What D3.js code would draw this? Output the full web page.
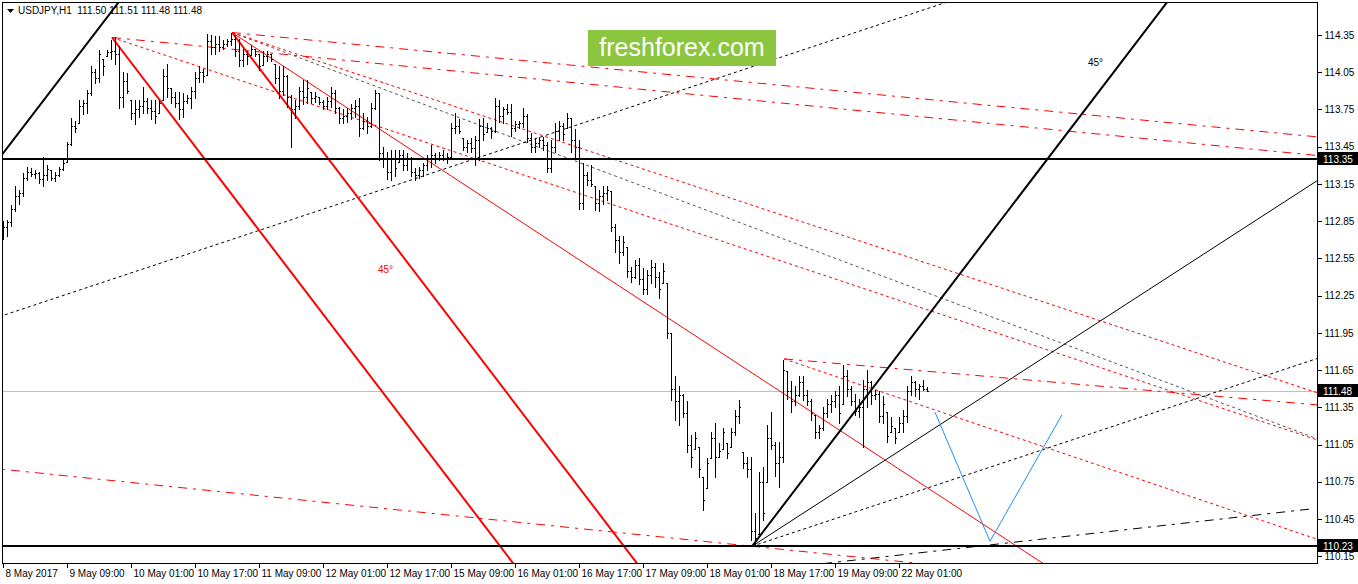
<!DOCTYPE html>
<html><head><meta charset="utf-8">
<script src="https://cdn.jsdelivr.net/npm/d3@7"></script>
<style>
body{margin:0;background:#fff;overflow:hidden}
svg{display:block}
text{font-family:"Liberation Sans",Arial,sans-serif}
</style>
</head><body>
<svg id="chart" width="1358" height="584"></svg>
<script>
// ---------- DATA ----------
const symbolTitle = "USDJPY,H1  111.50 111.51 111.48 111.48";
const highs = [
112.85,112.86,112.98,113.13,113.10,113.24,113.29,113.28,113.26,113.25,
113.37,113.30,113.26,113.25,113.29,113.34,113.49,113.68,113.66,113.83,
113.83,113.91,114.10,114.08,114.23,114.16,114.23,114.31,114.33,114.26,
114.05,114.04,113.83,113.83,113.83,113.93,113.84,113.83,113.83,113.83,
114.08,114.12,113.92,113.89,113.89,113.88,113.87,113.93,114.05,114.10,
114.08,114.36,114.35,114.34,114.34,114.31,114.32,114.37,114.35,114.32,
114.24,114.22,114.27,114.24,114.20,114.22,114.22,114.20,114.12,114.10,
114.10,114.03,113.87,113.83,113.93,113.99,113.99,113.89,113.89,113.85,
113.83,113.85,113.93,113.91,113.77,113.75,113.76,113.79,113.83,113.84,
113.72,113.69,113.80,113.91,113.88,113.45,113.41,113.42,113.42,113.42,
113.42,113.40,113.37,113.28,113.29,113.32,113.38,113.46,113.40,113.41,
113.42,113.40,113.64,113.72,113.67,113.52,113.50,113.52,113.54,113.67,
113.68,113.64,113.61,113.84,113.83,113.77,113.79,113.79,113.66,113.66,
113.76,113.71,113.56,113.52,113.53,113.53,113.49,113.50,113.64,113.66,
113.64,113.72,113.68,113.59,113.50,113.32,113.25,113.30,113.13,113.10,
113.13,113.13,113.09,112.83,112.73,112.73,112.64,112.48,112.54,112.55,
112.47,112.46,112.54,112.51,112.44,112.51,112.35,111.95,111.60,111.52,
111.46,111.40,111.13,111.15,111.03,110.79,110.94,111.15,111.22,111.06,
111.18,111.06,111.18,111.33,111.41,110.99,110.95,110.95,110.50,110.83,
110.87,111.21,111.31,111.07,111.07,111.73,111.64,111.56,111.52,111.60,
111.60,111.49,111.42,111.29,111.21,111.35,111.42,111.45,111.48,111.52,
111.69,111.65,111.52,111.46,111.42,111.57,111.65,111.56,111.49,111.48,
111.44,111.31,111.27,111.18,111.27,111.33,111.52,111.60,111.56,111.54,
111.57,111.51];
const lows = [
112.71,112.73,112.81,112.93,112.99,113.05,113.18,113.21,113.20,113.16,
113.13,113.18,113.18,113.17,113.21,113.26,113.33,113.46,113.57,113.64,
113.71,113.72,113.87,113.96,113.97,114.03,114.18,114.16,114.12,113.76,
113.77,113.88,113.67,113.63,113.69,113.72,113.72,113.67,113.64,113.72,
113.83,113.85,113.80,113.77,113.67,113.69,113.80,113.76,113.84,113.97,
113.97,114.03,114.20,114.20,114.22,114.24,114.26,114.27,114.18,114.10,
114.10,114.12,114.19,114.18,114.07,114.11,114.14,114.14,113.96,113.84,
113.87,113.77,113.45,113.68,113.75,113.79,113.80,113.80,113.81,113.79,
113.75,113.75,113.77,113.72,113.64,113.64,113.65,113.67,113.69,113.54,
113.59,113.56,113.61,113.75,113.34,113.29,113.19,113.18,113.21,113.33,
113.26,113.26,113.21,113.18,113.20,113.21,113.26,113.29,113.32,113.34,
113.34,113.32,113.36,113.56,113.56,113.42,113.41,113.41,113.30,113.34,
113.50,113.57,113.52,113.57,113.65,113.64,113.71,113.54,113.58,113.60,
113.61,113.49,113.41,113.41,113.45,113.42,113.25,113.25,113.41,113.50,
113.50,113.60,113.41,113.37,112.95,112.95,113.14,113.13,112.94,112.93,
112.99,113.02,112.77,112.60,112.51,112.58,112.40,112.36,112.39,112.34,
112.26,112.26,112.35,112.32,112.23,112.35,111.91,111.41,111.25,111.21,
111.27,110.99,110.87,111.01,110.79,110.52,110.70,110.94,110.79,110.95,
111.01,110.94,111.03,111.13,111.22,110.86,110.79,110.28,110.23,110.33,
110.44,110.75,111.01,110.80,110.71,110.91,111.42,111.31,111.37,111.44,
111.41,111.37,111.25,111.10,111.10,111.17,111.27,111.31,111.35,111.22,
111.38,111.44,111.37,111.29,111.27,111.03,111.35,111.38,111.42,111.23,
111.22,111.07,111.15,111.06,111.15,111.15,111.23,111.45,111.44,111.42,
111.49,111.48];
const opens = [
112.78,112.80,112.84,112.95,113.05,113.08,113.20,113.25,113.23,113.24,
113.19,113.22,113.26,113.20,113.22,113.27,113.33,113.47,113.62,113.64,
113.78,113.80,113.88,114.05,114.00,114.16,114.18,114.21,114.22,114.20,
113.85,113.98,113.83,113.72,113.75,113.78,113.82,113.76,113.74,113.72,
113.83,114.02,113.92,113.85,113.80,113.75,113.82,113.84,113.90,114.00,
114.05,114.03,114.30,114.25,114.28,114.25,114.28,114.30,114.32,114.22,
114.15,114.20,114.19,114.24,114.20,114.11,114.18,114.20,114.12,114.00,
113.90,114.02,113.85,113.75,113.78,113.90,113.85,113.89,113.84,113.85,
113.81,113.78,113.82,113.88,113.76,113.68,113.70,113.72,113.76,113.78,
113.60,113.66,113.62,113.76,113.88,113.40,113.35,113.25,113.36,113.33,
113.38,113.30,113.36,113.25,113.22,113.26,113.30,113.35,113.38,113.35,
113.38,113.36,113.37,113.60,113.62,113.52,113.45,113.48,113.44,113.50,
113.62,113.57,113.60,113.58,113.78,113.70,113.75,113.73,113.60,113.63,
113.64,113.70,113.52,113.45,113.48,113.50,113.46,113.28,113.45,113.58,
113.62,113.60,113.68,113.50,113.45,113.00,113.22,113.18,113.13,113.00,
113.05,113.08,113.09,112.80,112.70,112.60,112.64,112.45,112.40,112.50,
112.38,112.30,112.42,112.48,112.40,112.35,112.35,111.95,111.50,111.40,
111.45,111.30,111.05,111.01,111.03,110.79,110.70,110.94,111.10,110.95,
111.01,111.06,111.03,111.15,111.28,110.99,110.90,110.85,110.35,110.33,
110.75,110.75,111.10,111.05,110.90,110.95,111.64,111.48,111.40,111.45,
111.55,111.45,111.40,111.29,111.15,111.18,111.30,111.38,111.40,111.45,
111.38,111.60,111.50,111.40,111.32,111.35,111.50,111.55,111.45,111.46,
111.28,111.31,111.15,111.18,111.15,111.22,111.28,111.48,111.55,111.50,
111.52,111.50];
const closes = [
112.80,112.84,112.95,113.05,113.08,113.20,113.25,113.23,113.24,113.19,
113.22,113.27,113.20,113.22,113.27,113.32,113.47,113.62,113.60,113.78,
113.80,113.88,114.05,114.00,114.20,114.10,114.21,114.22,114.20,113.85,
113.98,113.90,113.72,113.75,113.78,113.82,113.76,113.74,113.70,113.80,
114.02,113.92,113.85,113.80,113.75,113.82,113.84,113.90,114.00,114.05,
114.02,114.30,114.25,114.28,114.25,114.28,114.30,114.32,114.22,114.15,
114.20,114.18,114.24,114.20,114.10,114.18,114.20,114.16,114.00,113.90,
114.02,113.85,113.75,113.78,113.90,113.85,113.92,113.84,113.86,113.81,
113.78,113.82,113.88,113.76,113.68,113.70,113.72,113.76,113.78,113.60,
113.66,113.62,113.76,113.88,113.40,113.35,113.25,113.36,113.28,113.38,
113.30,113.36,113.25,113.22,113.26,113.30,113.35,113.38,113.35,113.38,
113.36,113.37,113.60,113.62,113.58,113.45,113.48,113.44,113.50,113.62,
113.55,113.60,113.58,113.78,113.70,113.75,113.73,113.60,113.63,113.64,
113.70,113.52,113.45,113.48,113.50,113.46,113.28,113.45,113.58,113.62,
113.55,113.68,113.50,113.45,113.00,113.22,113.18,113.15,113.00,113.05,
113.08,113.10,112.80,112.70,112.60,112.68,112.45,112.40,112.50,112.38,
112.30,112.42,112.48,112.40,112.30,112.45,111.95,111.50,111.40,111.45,
111.30,111.05,110.95,111.10,110.85,110.60,110.90,111.10,110.95,111.00,
111.15,110.98,111.15,111.28,111.35,110.90,110.85,110.35,110.30,110.75,
110.50,111.10,111.05,110.90,110.95,111.65,111.48,111.40,111.45,111.55,
111.45,111.40,111.30,111.15,111.18,111.30,111.38,111.40,111.45,111.30,
111.60,111.50,111.40,111.32,111.35,111.50,111.55,111.45,111.46,111.28,
111.38,111.12,111.20,111.10,111.22,111.28,111.48,111.55,111.50,111.52,
111.50,111.48];

const timeTickBars = [0,16,32,48,64,80,96,112,128,144,160,176,192,208,224];
const timeTickLabels = ["8 May 2017","9 May 09:00","10 May 01:00","10 May 17:00","11 May 09:00","12 May 01:00","12 May 17:00","15 May 09:00","16 May 01:00","16 May 17:00","17 May 09:00","18 May 01:00","18 May 17:00","19 May 09:00","22 May 01:00"];
const priceTicks = [114.35,114.05,113.75,113.45,113.15,112.85,112.55,112.25,111.95,111.65,111.35,111.05,110.75,110.45,110.15];
const levelPrices = [113.35, 110.23];
const bidPrice = 111.48;

// anchor points [bar index, price]
const highMay9 = [27.25, 114.33];
const highMay10 = [57.25, 114.37];
const highMay18 = [195.25, 111.74];
const lowMay18 = [187.25, 110.23];

// trend lines: two points each [bar, price]
const blackGannTopLeft = [[0.075, 113.40], [30, 114.66]];
const blackGannFromLow = [lowMay18, [227.25, 111.92]];
const blackThinFromLow = [lowMay18, [328.25, 113.17]];
const blackDotFromLow = [lowMay18, [328.25, 111.74]];
const blackDashLow = [[205, 110.09], [326.75, 110.53]];
const blackDotLong = [[0, 112.09], [235.5, 114.61]];
const redThickFromMay9 = [highMay9, [67.25, 112.64]];
const redThickFromMay10 = [highMay10, [97.25, 112.68]];
const redThinFromMay10 = [highMay10, [157.25, 112.26]];
const redDotFromMay9 = [highMay9, [328.25, 111.09]];
const redDotFromMay10 = [highMay10, [328.25, 111.47]];
const redDashDotFromMay10 = [highMay10, [328.25, 113.53]];
const redDashDotFromMay9 = [highMay9, [328.25, 113.38]];
const redDashDotFromMay18 = [highMay18, [328.25, 111.37]];
const redDotFromMay18 = [highMay18, [328.25, 110.29]];
const redDashDotBottom = [[0, 110.85], lowMay18];
const grayDotFromMay10 = [highMay10, [328.25, 111.10]];
const bluePath = [[233, 111.31], [246.75, 110.27], [264.75, 111.29]];
const angleLabelBlack = [271.25, 114.10];
const angleLabelRed = [93.75, 112.43];

// ---------- CHART ----------
const W = 1358, H = 584;
const plot = {left: 3, right: 1317, top: 3, bottom: 564};
const svg = d3.select("#chart");
const x = d3.scaleLinear().domain([0, 328.5]).range([3, 1317]);
const y = d3.scaleLinear().domain([110.15, 114.35]).range([556.2, 35]);

svg.append("rect").attr("width", W).attr("height", H).attr("fill", "#fff");
svg.append("clipPath").attr("id", "pc").append("rect")
  .attr("x", plot.left).attr("y", plot.top)
  .attr("width", plot.right - plot.left).attr("height", plot.bottom - plot.top);

const g = svg.append("g").attr("clip-path", "url(#pc)");

g.append("line").attr("x1", plot.left).attr("x2", plot.right)
  .attr("y1", Math.round(y(bidPrice)) + 0.5).attr("y2", Math.round(y(bidPrice)) + 0.5)
  .attr("stroke", "#c0c0c0").attr("stroke-width", 1);

function seg(pts, extend) {
  let [x1, y1] = [x(pts[0][0]), y(pts[0][1])];
  let [x2, y2] = [x(pts[1][0]), y(pts[1][1])];
  const dx = x2 - x1, dy = y2 - y1, L = Math.hypot(dx, dy);
  const ux = dx / L, uy = dy / L, far = 4000;
  if (extend === "right" || extend === "both") { x2 = x1 + ux * far; y2 = y1 + uy * far; }
  if (extend === "both") { x1 = x1 - ux * far; y1 = y1 - uy * far; }
  return [[x1, y1], [x2, y2]];
}
function drawLine(pts, extend, color, width, dash) {
  const s = seg(pts, extend);
  g.append("line").attr("x1", s[0][0]).attr("y1", s[0][1]).attr("x2", s[1][0]).attr("y2", s[1][1])
    .attr("stroke", color).attr("stroke-width", width)
    .attr("stroke-dasharray", dash || null).attr("fill", "none");
}
const RED = "#ff0000", DOT = "3,3", DASHDOT = "9,6,3,6";

drawLine(grayDotFromMay10, "right", "#555555", 1, DOT);
drawLine(blackDotLong, "both", "#000", 1, DOT);
drawLine(redDashDotFromMay10, "right", RED, 1, DASHDOT);
drawLine(redDashDotFromMay9, "right", RED, 1, DASHDOT);
drawLine(redDotFromMay9, "right", RED, 1, DOT);
drawLine(redDotFromMay10, "right", RED, 1, DOT);
drawLine(redThinFromMay10, "right", RED, 1, null);
drawLine(redDashDotFromMay18, "right", RED, 1, DASHDOT);
drawLine(redDotFromMay18, "right", RED, 1, DOT);
drawLine(redDashDotBottom, "both", RED, 1, DASHDOT);
drawLine(blackThinFromLow, "right", "#000", 1, null);
drawLine(blackDotFromLow, "right", "#000", 1, DOT);
drawLine(blackDashLow, "none", "#000", 1, DASHDOT);
drawLine(redThickFromMay9, "right", RED, 2, null);
drawLine(redThickFromMay10, "right", RED, 2, null);
drawLine(blackGannTopLeft, "both", "#000", 2, null);
drawLine(blackGannFromLow, "right", "#000", 2, null);

levelPrices.forEach(p => {
  g.append("line").attr("x1", plot.left).attr("x2", plot.right)
    .attr("y1", Math.round(y(p))).attr("y2", Math.round(y(p)))
    .attr("stroke", "#000").attr("stroke-width", 2);
});

g.append("path").attr("d", d3.line().x(d => x(d[0])).y(d => y(d[1]))(bluePath))
  .attr("fill", "none").attr("stroke", "#1e90ff").attr("stroke-width", 1);

const bars = g.append("g").attr("shape-rendering", "crispEdges");
highs.forEach((h, i) => {
  const px = Math.round(x(i));
  const lo = lows[i];
  const o = Math.max(lo, Math.min(h, opens[i]));
  const c = Math.max(lo, Math.min(h, closes[i]));
  const yh = Math.round(y(h)), yl = Math.round(y(lo));
  bars.append("rect").attr("x", px).attr("y", yh).attr("width", 1).attr("height", yl - yh + 1).attr("fill", "#000");
  bars.append("rect").attr("x", px - 1).attr("y", Math.round(y(o))).attr("width", 1).attr("height", 1).attr("fill", "#000");
  bars.append("rect").attr("x", px + 1).attr("y", Math.round(y(c))).attr("width", 1).attr("height", 1).attr("fill", "#000");
});

g.append("text").attr("x", x(angleLabelBlack[0])).attr("y", y(angleLabelBlack[1]))
  .attr("font-size", 10).attr("fill", "#000").text("45°");
g.append("text").attr("x", x(angleLabelRed[0])).attr("y", y(angleLabelRed[1]))
  .attr("font-size", 10).attr("fill", RED).text("45°");

const logo = svg.append("g");
logo.append("rect").attr("x", 588).attr("y", 30).attr("width", 188).attr("height", 36).attr("fill", "#8cc63e");
logo.append("text").attr("x", 682).attr("y", 56).attr("text-anchor", "middle")
  .attr("font-size", 25).attr("fill", "#fff").attr("font-family", "'Open Sans','Liberation Sans',Arial,sans-serif")
  .text("freshforex.com");

svg.append("rect").attr("x", 2.5).attr("y", 2.5).attr("width", plot.right - 2.5 + 0.5).attr("height", plot.bottom - 2.5 - 0.5)
  .attr("fill", "none").attr("stroke", "#000").attr("stroke-width", 1).attr("shape-rendering", "crispEdges");

const yAxis = d3.axisRight(y).tickValues(priceTicks).tickFormat(d3.format(".2f")).tickSize(4).tickPadding(3);
const ya = svg.append("g").attr("transform", `translate(${plot.right + 0.5},0)`).call(yAxis);
ya.select(".domain").remove();
ya.selectAll("line").attr("stroke", "#000").attr("shape-rendering", "crispEdges");
ya.selectAll("text").attr("font-size", 10).attr("fill", "#000").attr("font-family", "'Liberation Sans',Arial,sans-serif");

[...levelPrices, bidPrice].forEach(p => {
  const yy = Math.round(y(p));
  svg.append("rect").attr("x", plot.right + 1).attr("y", yy - 7).attr("width", 41).attr("height", 13).attr("fill", "#000");
  svg.append("text").attr("x", plot.right + 6).attr("y", yy + 4).attr("font-size", 10).attr("fill", "#fff").text(p.toFixed(2));
});

const xAxis = d3.axisBottom(x).tickValues(timeTickBars).tickFormat((d, i) => timeTickLabels[i]).tickSize(4).tickPadding(2);
const xa = svg.append("g").attr("transform", `translate(0,${plot.bottom})`).call(xAxis);
xa.select(".domain").remove();
xa.selectAll("line").attr("stroke", "#000").attr("shape-rendering", "crispEdges");
xa.selectAll("text").attr("font-size", 10).attr("fill", "#000").attr("text-anchor", "start").attr("dx", 2)
  .attr("font-family", "'Liberation Sans',Arial,sans-serif");

svg.append("path").attr("d", "M7,9 L14,9 L10.5,13 Z").attr("fill", "#000");
svg.append("text").attr("x", 18).attr("y", 14).attr("font-size", 10).attr("fill", "#000")
  .style("white-space", "pre").text(symbolTitle);
</script>
</body></html>
